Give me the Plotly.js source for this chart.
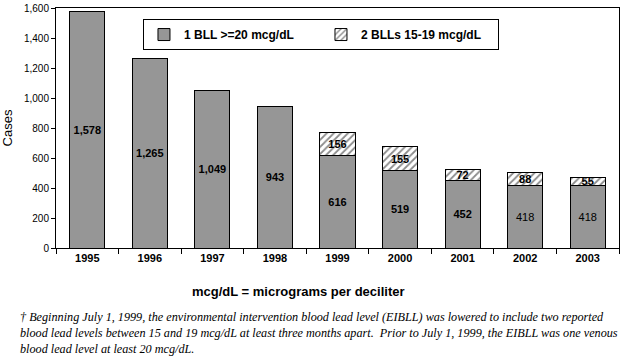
<!DOCTYPE html>
<html>
<head>
<meta charset="utf-8">
<script src="https://cdn.plot.ly/plotly-3.0.1.min.js"></script>
<style>html,body{margin:0;padding:0;background:#fff;}#chart{width:634px;height:364px;}</style>
</head>
<body>
<div id="chart"></div>
<script>
const years = ['1995','1996','1997','1998','1999','2000','2001','2002','2003'];
const oneBLL = [1578, 1265, 1049, 943, 616, 519, 452, 418, 418];
const twoBLLs = [null, null, null, null, 156, 155, 72, 88, 55];
const seriesNames = ['1 BLL >=20 mcg/dL', '2 BLLs 15-19 mcg/dL'];
const yTicks = [0, 200, 400, 600, 800, 1000, 1200, 1400, 1600];

const fmt = v => (v === null ? '' : v.toLocaleString('en-US'));

const trace1 = {
  type: 'bar', x: years, y: oneBLL, name: '<b>' + seriesNames[0] + '</b>',
  text: oneBLL.map((v, i) => i < 7 ? '<b>' + fmt(v) + '</b>' : fmt(v)),
  textposition: 'inside', insidetextanchor: 'middle', constraintext: 'none',
  textangle: 0,
  insidetextfont: {family: 'Arial, Liberation Sans, sans-serif', size: 11, color: '#000'},
  marker: {color: '#969696', line: {color: '#000', width: 1}},
  hoverinfo: 'none'
};
const trace2 = {
  type: 'bar', x: years, y: twoBLLs, name: '<b>' + seriesNames[1] + '</b>',
  text: twoBLLs.map(v => v === null ? '' : '<b>' + fmt(v) + '</b>'),
  textposition: 'inside', insidetextanchor: 'middle', constraintext: 'none',
  textangle: 0,
  insidetextfont: {family: 'Arial, Liberation Sans, sans-serif', size: 11, color: '#000'},
  marker: {color: '#ffffff', line: {color: '#000', width: 1},
           pattern: {shape: '/', fgcolor: '#8c8c8c', bgcolor: '#ffffff', size: 5, solidity: 0.35}},
  hoverinfo: 'none'
};

const layout = {
  width: 634, height: 364,
  margin: {l: 56, r: 15, t: 8, b: 116},
  paper_bgcolor: '#fff', plot_bgcolor: '#fff',
  barmode: 'stack', bargap: 0.44,
  showlegend: true,
  legend: {
    orientation: 'h', x: 0.1545, y: 0.954, xanchor: 'left', yanchor: 'top',
    bgcolor: '#fff', bordercolor: '#000', borderwidth: 1,
    font: {family: 'Arial, Liberation Sans, sans-serif', size: 12, color: '#000'},
    itemwidth: 30, entrywidth: 132, entrywidthmode: 'pixels', traceorder: 'normal'
  },
  xaxis: {
    type: 'category', showline: true, linecolor: '#000', linewidth: 1, mirror: true,
    ticks: 'outside', tickson: 'boundaries', ticklen: 5, tickcolor: '#000',
    tickfont: {family: 'Arial, Liberation Sans, sans-serif', size: 11, color: '#000', weight: 'bold'},
    showgrid: false, zeroline: false
  },
  yaxis: {
    range: [0, 1600], tickvals: yTicks, tickformat: ',d',
    showline: true, linecolor: '#000', linewidth: 1, mirror: true,
    ticks: 'outside', ticklen: 4, tickcolor: '#000',
    tickfont: {family: 'Arial, Liberation Sans, sans-serif', size: 10, color: '#000'},
    showgrid: false, zeroline: false,
    title: {text: 'Cases', font: {family: 'Arial, Liberation Sans, sans-serif', size: 13, color: '#000'}, standoff: 16}
  },
  annotations: [
    {xref: 'paper', yref: 'paper', x: 0.43, y: -0.18, xanchor: 'center', yanchor: 'middle',
     text: '<b>mcg/dL = micrograms per deciliter</b>', showarrow: false,
     font: {family: 'Arial, Liberation Sans, sans-serif', size: 13, color: '#000'}},
    {xref: 'paper', yref: 'paper', x: -0.068, y: -0.25, xanchor: 'left', yanchor: 'top', align: 'left',
     text: '<i>† Beginning July 1, 1999, the environmental intervention blood lead level (EIBLL) was lowered to include two reported<br>blood lead levels between 15 and 19 mcg/dL at least three months apart.  Prior to July 1, 1999, the EIBLL was one venous<br>blood lead level at least 20 mcg/dL.</i>',
     showarrow: false,
     font: {family: 'Liberation Serif, Times New Roman, serif', size: 12.2, color: '#000'}}
  ]
};

Plotly.newPlot('chart', [trace1, trace2], layout, {displayModeBar: false, staticPlot: true});
</script>
</body>
</html>
